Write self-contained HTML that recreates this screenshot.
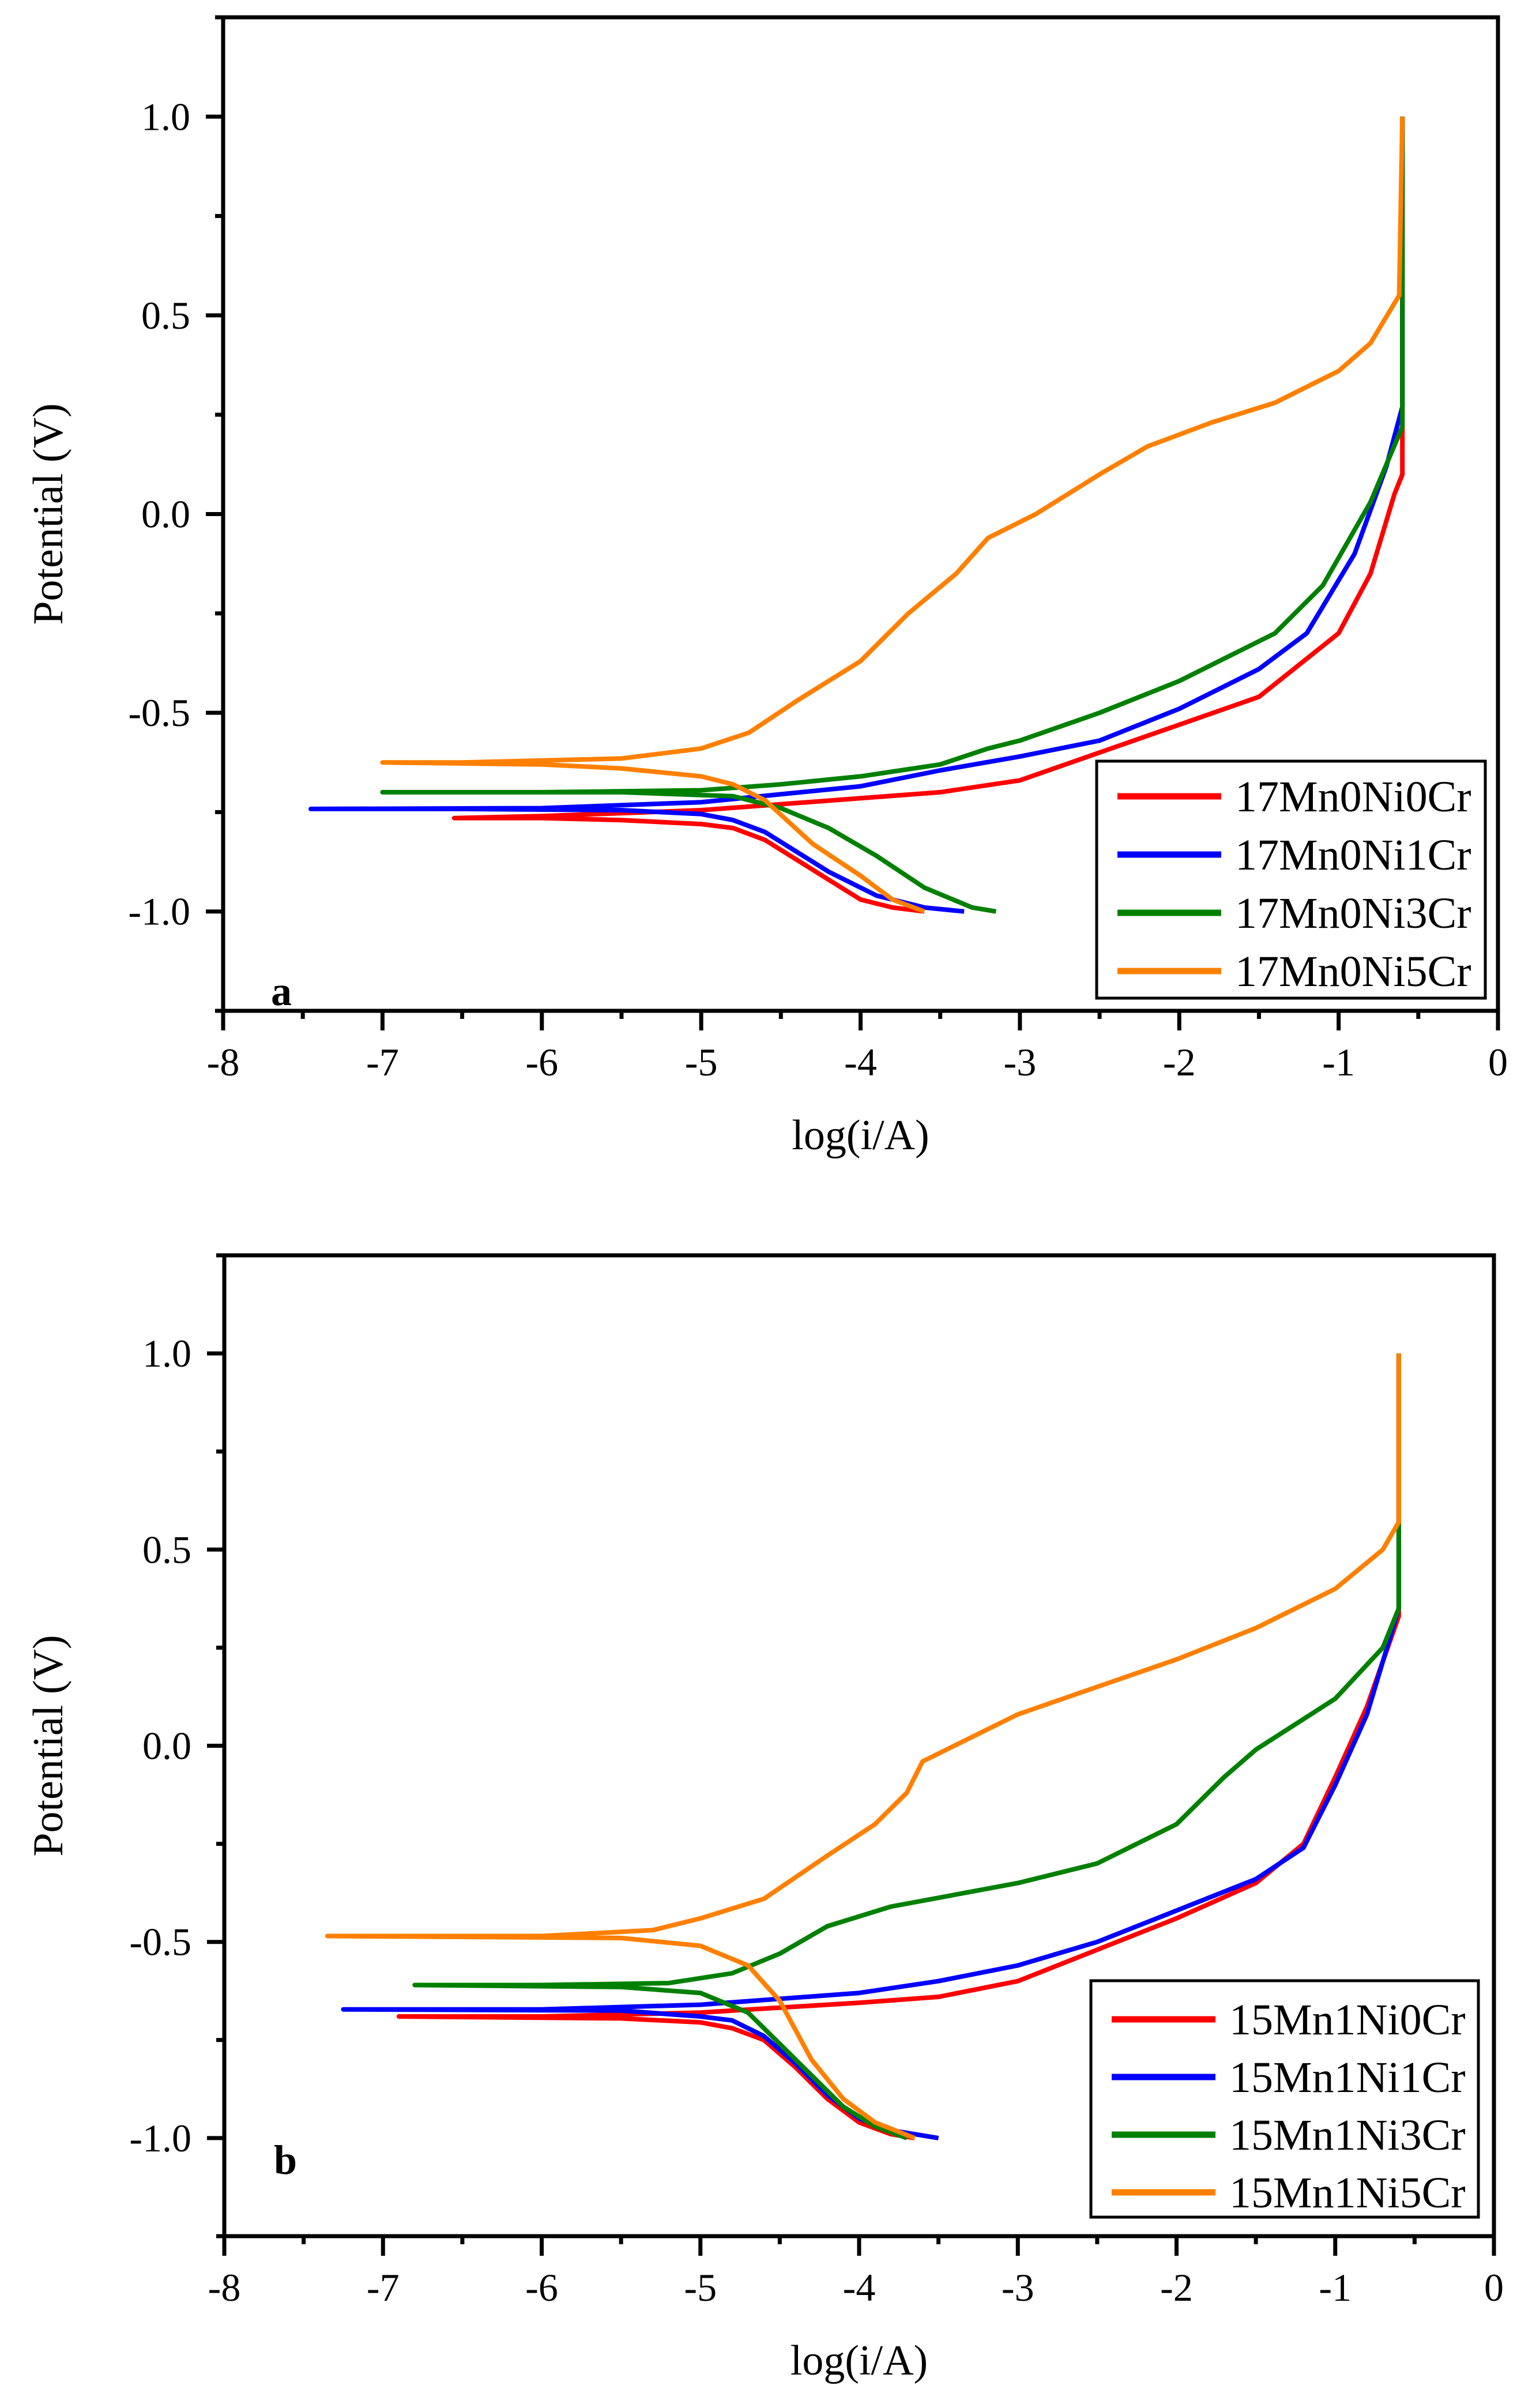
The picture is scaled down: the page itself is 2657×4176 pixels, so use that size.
<!DOCTYPE html>
<html><head><meta charset="utf-8"><style>
html,body{margin:0;padding:0;background:#fff;}
svg{display:block;}
text{font-family:"Liberation Serif",serif;fill:#000;}
</style></head><body>
<svg id="fig" width="2657" height="4176" viewBox="0 0 2657 4176" xmlns="http://www.w3.org/2000/svg"></svg>
<script>
// ---- data (log(i/A), Potential V) ----
const xTicks = [-8,-7,-6,-5,-4,-3,-2,-1,0];
const yTicks = [-1.0,-0.5,0.0,0.5,1.0];
const yTickLabels = ["-1.0","-0.5","0.0","0.5","1.0"];
const aNames = ["17Mn0Ni0Cr","17Mn0Ni1Cr","17Mn0Ni3Cr","17Mn0Ni5Cr"];
const bNames = ["15Mn1Ni0Cr","15Mn1Ni1Cr","15Mn1Ni3Cr","15Mn1Ni5Cr"];
const colors = ["#ff0000","#0000ff","#008000","#ff8000"];

const a0x=[-3.6,-3.8,-4.0,-4.2,-4.4,-4.6,-4.8,-5.0,-5.5,-6.0,-6.55,-6.0,-5.0,-4.0,-3.5,-3.0,-2.5,-2.0,-1.5,-1.0,-0.8,-0.65,-0.6,-0.6];
const a0y=[-1.0,-0.99,-0.97,-0.92,-0.87,-0.82,-0.79,-0.78,-0.77,-0.765,-0.765,-0.76,-0.745,-0.715,-0.70,-0.67,-0.6,-0.53,-0.46,-0.3,-0.15,0.05,0.1,1.0];
const a1x=[-3.35,-3.6,-3.9,-4.2,-4.4,-4.6,-4.8,-5.0,-5.5,-6.5,-7.45,-6.0,-5.0,-4.0,-3.5,-3.0,-2.5,-2.0,-1.5,-1.2,-0.9,-0.7,-0.6,-0.6];
const a1y=[-1.0,-0.99,-0.96,-0.9,-0.85,-0.8,-0.77,-0.755,-0.745,-0.742,-0.742,-0.74,-0.725,-0.685,-0.645,-0.61,-0.57,-0.49,-0.39,-0.3,-0.1,0.12,0.27,1.0];
const a2x=[-3.15,-3.3,-3.6,-3.9,-4.2,-4.5,-4.8,-5.5,-7.0,-6.0,-5.0,-4.5,-4.0,-3.5,-3.2,-3.0,-2.5,-2.0,-1.4,-1.1,-0.8,-0.6,-0.6];
const a2y=[-1.0,-0.99,-0.94,-0.86,-0.79,-0.74,-0.71,-0.70,-0.70,-0.70,-0.695,-0.68,-0.66,-0.63,-0.59,-0.57,-0.5,-0.42,-0.3,-0.18,0.03,0.22,1.0];
const a3x=[-3.6,-3.8,-4.0,-4.3,-4.6,-4.8,-5.0,-5.5,-6.0,-7.0,-6.5,-5.5,-5.0,-4.7,-4.4,-4.0,-3.7,-3.4,-3.2,-2.9,-2.5,-2.2,-1.8,-1.4,-1.0,-0.8,-0.62,-0.6];
const a3y=[-1.0,-0.97,-0.91,-0.83,-0.72,-0.68,-0.66,-0.64,-0.63,-0.625,-0.625,-0.615,-0.59,-0.55,-0.47,-0.37,-0.25,-0.15,-0.06,0.0,0.1,0.17,0.23,0.28,0.36,0.43,0.55,1.0];

const b0x=[-3.65,-3.8,-4.0,-4.2,-4.4,-4.6,-4.8,-5.0,-5.5,-6.9,-6.0,-5.0,-4.0,-3.5,-3.0,-2.5,-2.0,-1.5,-1.2,-1.0,-0.8,-0.6,-0.6];
const b0y=[-1.0,-0.99,-0.96,-0.9,-0.82,-0.75,-0.72,-0.705,-0.695,-0.69,-0.69,-0.68,-0.655,-0.64,-0.6,-0.52,-0.44,-0.35,-0.25,-0.08,0.1,0.33,1.0];
const b1x=[-3.5,-3.8,-4.0,-4.2,-4.4,-4.6,-4.8,-5.0,-5.5,-7.25,-6.0,-5.0,-4.0,-3.5,-3.0,-2.5,-2.0,-1.5,-1.2,-1.0,-0.8,-0.6,-0.6];
const b1y=[-1.0,-0.98,-0.95,-0.89,-0.81,-0.74,-0.70,-0.69,-0.675,-0.672,-0.672,-0.66,-0.63,-0.6,-0.56,-0.5,-0.42,-0.34,-0.26,-0.1,0.08,0.35,1.0];
const b2x=[-3.7,-3.9,-4.1,-4.3,-4.5,-4.7,-5.0,-5.5,-6.8,-6.0,-5.2,-4.8,-4.5,-4.2,-3.8,-3.0,-2.5,-2.0,-1.7,-1.5,-1.0,-0.7,-0.6,-0.6];
const b2y=[-1.0,-0.97,-0.92,-0.84,-0.76,-0.68,-0.63,-0.615,-0.61,-0.61,-0.605,-0.58,-0.53,-0.46,-0.41,-0.35,-0.3,-0.2,-0.08,-0.01,0.12,0.25,0.35,1.0];
const b3x=[-3.65,-3.9,-4.1,-4.3,-4.5,-4.7,-5.0,-5.5,-7.35,-6.0,-5.3,-5.0,-4.6,-4.2,-3.9,-3.7,-3.6,-3.4,-3.0,-2.5,-2.0,-1.5,-1.0,-0.7,-0.6,-0.6];
const b3y=[-1.0,-0.96,-0.9,-0.8,-0.65,-0.56,-0.51,-0.49,-0.485,-0.485,-0.47,-0.44,-0.39,-0.28,-0.2,-0.12,-0.04,0.0,0.08,0.15,0.22,0.3,0.4,0.5,0.57,1.0];

const NS="http://www.w3.org/2000/svg";
const svg=document.getElementById('fig');
function mk(tag,attrs,parent){const e=document.createElementNS(NS,tag);for(const k in attrs)e.setAttribute(k,attrs[k]);(parent||svg).appendChild(e);return e;}

function panel(cfg){
  const g=mk('g',{});
  
  
  const X=v=>cfg.left+(v+8)/8*(cfg.right-cfg.left);
  const Y=v=>cfg.bottom-(v+1.25)/2.5*(cfg.bottom-cfg.top);
  cfg.series.forEach((s,i)=>{
    let d='';
    s.x.forEach((xv,j)=>{d+=(j?'L':'M')+X(xv).toFixed(1)+' '+Y(s.y[j]).toFixed(1);});
    const p=mk('path',{d:d,fill:'none',stroke:colors[i],'stroke-width':8,'stroke-linejoin':'round','stroke-linecap':'butt'},g);
    
    
  });
  const fr=mk('rect',{x:cfg.left,y:cfg.top,width:cfg.right-cfg.left,height:cfg.bottom-cfg.top,fill:'none',stroke:'#000','stroke-width':7},g);
  
  
  for(let v=-8;v<=0.001;v+=0.5){
    const major=Math.abs(v-Math.round(v))<1e-6;
    const t=mk('line',{x1:X(v),x2:X(v),y1:cfg.bottom,y2:cfg.bottom+(major?34:14),stroke:'#000','stroke-width':7},g);
    
    
  }
  xTicks.forEach(v=>{
    const t=mk('text',{x:X(v),y:cfg.bottom+112,'font-size':68,'text-anchor':'middle'},g);
    t.textContent=String(v);
    
    
  });
  for(let v=-1.25;v<=1.2501;v+=0.25){
    const major=Math.abs(v*2-Math.round(v*2))<1e-6;
    const t=mk('line',{x1:cfg.left-(major?30:14),x2:cfg.left,y1:Y(v),y2:Y(v),stroke:'#000','stroke-width':7},g);
    
    
  }
  yTicks.forEach((v,i)=>{
    const t=mk('text',{x:cfg.left-57,y:Y(v)+23,'font-size':68,'text-anchor':'end'},g);
    t.textContent=yTickLabels[i];
    
    
  });
  const xt=mk('text',{x:(cfg.left+cfg.right)/2,y:cfg.bottom+240,'font-size':74,'text-anchor':'middle'},g);
  xt.textContent='log(i/A)';
  
  
  const yc=(cfg.top+cfg.bottom)/2;
  const yt=mk('text',{x:0,y:0,'font-size':74,'text-anchor':'middle',transform:'translate(108,'+yc+') rotate(-90)'},g);
  yt.textContent='Potential (V)';
  
  
  const pl=mk('text',{x:cfg.labX,y:cfg.labY,'font-size':72,'font-weight':'bold'},g);
  pl.textContent=cfg.id;
  
  
  const L=cfg.leg;
  const lg=mk('g',{},g);
  
  
  mk('rect',{x:L.x,y:L.y,width:L.w,height:L.h,fill:'#fff',stroke:'#000','stroke-width':5},lg);
  cfg.names.forEach((n,i)=>{
    const ry=L.y+L.r0+i*L.dy;
    const ln=mk('line',{x1:L.x+36,x2:L.x+216,y1:ry,y2:ry,stroke:colors[i],'stroke-width':11},lg);
    
    
    const tx=mk('text',{x:L.x+240,y:ry+26,'font-size':76},lg);
    tx.textContent=n;
    
    
  });
}
panel({id:'a',left:387,right:2598,top:30,bottom:1753,labX:470,labY:1743,names:aNames,
  series:[{x:a0x,y:a0y},{x:a1x,y:a1y},{x:a2x,y:a2y},{x:a3x,y:a3y}],
  leg:{x:1902,y:1320,w:674,h:411,r0:61,dy:101}});
panel({id:'b',left:389,right:2591,top:2177,bottom:3878,labX:475,labY:3770,names:bNames,
  series:[{x:b0x,y:b0y},{x:b1x,y:b1y},{x:b2x,y:b2y},{x:b3x,y:b3y}],
  leg:{x:1892,y:3435,w:672,h:410,r0:67,dy:100}});
</script>
</body></html>
